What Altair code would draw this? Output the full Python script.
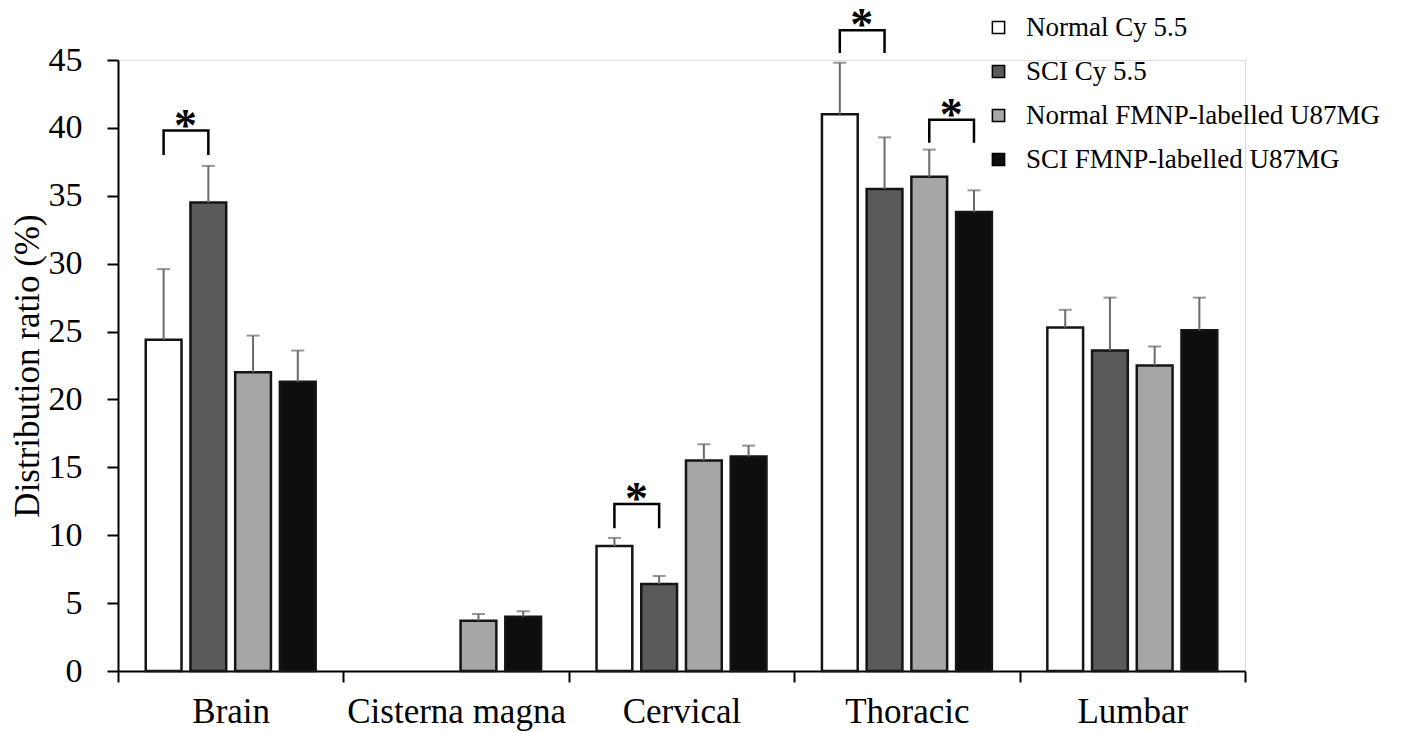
import altair as alt
import pandas as pd

groups = ["Brain", "Cisterna magna", "Cervical", "Thoracic", "Lumbar"]
series = ["Normal Cy 5.5", "SCI Cy 5.5", "Normal FMNP-labelled U87MG", "SCI FMNP-labelled U87MG"]
colors = ["#ffffff", "#5a5a5a", "#a6a6a6", "#0e0e0e"]

# mean values (None = no bar)
normal_cy = [24.4, None, 9.2, 41.0, 25.3]
sci_cy = [34.5, None, 6.4, 35.5, 23.6]
normal_fmnp = [22.0, 3.7, 15.5, 36.4, 22.5]
sci_fmnp = [21.3, 4.0, 15.8, 33.8, 25.1]

# upper error bar lengths
normal_cy_err = [5.2, None, 0.6, 3.8, 1.3]
sci_cy_err = [2.7, None, 0.6, 3.8, 3.9]
normal_fmnp_err = [2.7, 0.5, 1.2, 2.0, 1.4]
sci_fmnp_err = [2.3, 0.4, 0.8, 1.6, 2.4]

# significance brackets: group, left series, right series, top, leg end
br_group = ["Brain", "Cervical", "Thoracic", "Thoracic"]
br_left = ["Normal Cy 5.5", "Normal Cy 5.5", "Normal Cy 5.5", "Normal FMNP-labelled U87MG"]
br_right = ["SCI Cy 5.5", "SCI Cy 5.5", "SCI Cy 5.5", "SCI FMNP-labelled U87MG"]
br_top = [39.8, 12.3, 47.2, 40.6]
br_leg = [38.1, 10.6, 45.6, 39.0]

means = [normal_cy, sci_cy, normal_fmnp, sci_fmnp]
errs = [normal_cy_err, sci_cy_err, normal_fmnp_err, sci_fmnp_err]
rows = []
for s, m, e in zip(series, means, errs):
    for g, v, d in zip(groups, m, e):
        if v is None:
            continue
        rows.append({"group": g, "series": s, "value": v, "upper": v + d})
df = pd.DataFrame(rows)

line_rows = []
for i, (g, l, r, t, b) in enumerate(zip(br_group, br_left, br_right, br_top, br_leg)):
    line_rows += [
        {"id": i, "group": g, "series": l, "y": b, "o": 0},
        {"id": i, "group": g, "series": l, "y": t, "o": 1},
        {"id": i, "group": g, "series": r, "y": t, "o": 2},
        {"id": i, "group": g, "series": r, "y": b, "o": 3},
    ]
ldf = pd.DataFrame(line_rows)
sdf = pd.DataFrame({"group": br_group, "series": br_left, "y": br_top, "t": ["*"] * len(br_group)})

FONT = "Liberation Serif, Times New Roman, serif"

x_enc = alt.X(
    "group:N",
    sort=groups,
    scale=alt.Scale(domain=groups, paddingInner=0, paddingOuter=0),
    axis=alt.Axis(
        title=None, tickBand="extent", tickSize=11, tickWidth=2, tickColor="black",
        domainColor="black", domainWidth=2, labelFont=FONT, labelFontSize=35,
        labelColor="black", labelPadding=12, labelAngle=0, grid=False, labelLimit=400,
    ),
)
xo_enc = alt.XOffset(
    "series:N", sort=series,
    scale=alt.Scale(domain=series, paddingInner=0.2, paddingOuter=0.62),
)
y_scale = alt.Scale(domain=[0, 45], nice=False)
y_axis = alt.Axis(
    title="Distribution ratio (%)", values=list(range(0, 50, 5)), tickSize=11,
    tickWidth=2, tickColor="black", domainColor="black", domainWidth=2,
    labelFont=FONT, labelFontSize=34, labelColor="black", labelPadding=25,
    titleFont=FONT, titleFontSize=35, titleFontWeight="normal", titleColor="black",
    titlePadding=3, grid=False,
)

bars = alt.Chart(df).mark_bar(stroke="#151515", strokeWidth=2.5).encode(
    x=x_enc,
    xOffset=xo_enc,
    y=alt.Y("value:Q", scale=y_scale, axis=y_axis),
    fill=alt.Fill(
        "series:N", sort=series,
        scale=alt.Scale(domain=series, range=colors),
        legend=alt.Legend(
            orient="none", legendX=867, legendY=-46, title=None,
            symbolType="square", symbolSize=150, symbolStrokeColor="black",
            symbolStrokeWidth=1.5, labelFont=FONT, labelFontSize=27,
            labelColor="black", labelOffset=14, rowPadding=16, padding=0,
            labelLimit=500,
        ),
    ),
)

err = alt.Chart(df).mark_rule(color="#6a6a6a", strokeWidth=2).encode(
    x=x_enc, xOffset=xo_enc,
    y=alt.Y("value:Q", scale=y_scale, axis=y_axis),
    y2="upper:Q",
)
caps = alt.Chart(df).mark_tick(color="#6a6a6a", thickness=2, size=13).encode(
    x=x_enc, xOffset=xo_enc,
    y=alt.Y("upper:Q", scale=y_scale, axis=y_axis),
)

brackets = alt.Chart(ldf).mark_line(color="black", strokeWidth=2.5, strokeCap="square").encode(
    x=x_enc, xOffset=xo_enc,
    y=alt.Y("y:Q", scale=y_scale, axis=y_axis),
    detail="id:N",
    order="o:Q",
)
stars = alt.Chart(sdf).mark_text(
    font=FONT, fontSize=46, fontWeight="bold", color="black",
    baseline="alphabetic", align="center", dx=22, dy=10,
).encode(
    x=x_enc, xOffset=xo_enc,
    y=alt.Y("y:Q", scale=y_scale, axis=y_axis),
    text="t:N",
)

chart = alt.layer(bars, err, caps, brackets, stars).properties(
    width=1127, height=611,
    padding={"left": 110, "top": 52, "right": 148, "bottom": 60},
    autosize=alt.AutoSizeParams(type="none"),
).configure_view(stroke=None).configure(font=FONT).configure_axis(
    labelFont=FONT, titleFont=FONT
).configure_legend(labelFont=FONT)

chart.save("out.html", embed_options={"renderer": "svg", "actions": False})
